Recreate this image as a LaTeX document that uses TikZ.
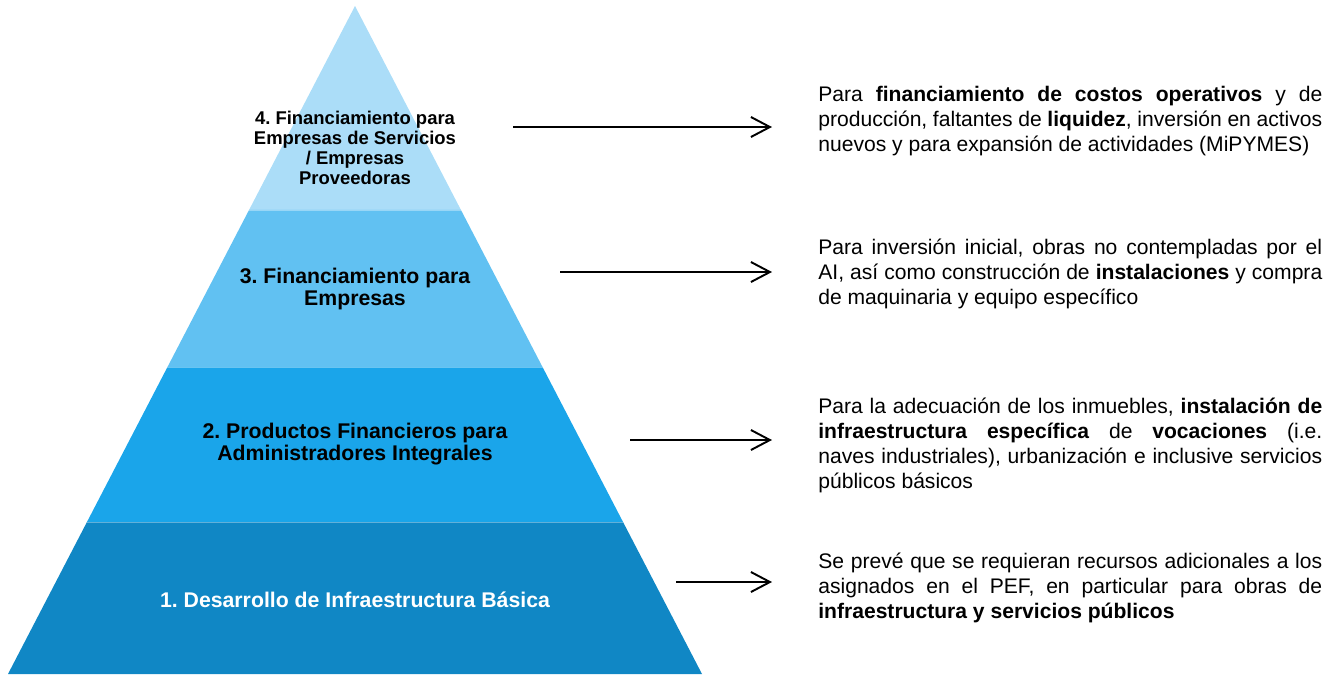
\documentclass[tikz,border=0pt]{standalone}
\usepackage{fontspec}
\setmainfont{Liberation Sans}
\usepackage{xcolor}
\usetikzlibrary{arrows.meta,positioning,calc}
\frenchspacing

\definecolor{layA}{HTML}{1087C5}
\definecolor{layB}{HTML}{1AA5EA}
\definecolor{layC}{HTML}{61C1F2}
\definecolor{layD}{HTML}{ABDDF8}

\begin{document}
\begin{tikzpicture}[x=0.02cm,y=-0.02cm,
  seam/.style={draw=white,draw opacity=0.35,line width=0.5pt},
  lbl/.style={align=center,inner sep=0pt,font=\bfseries\fontsize{12.1}{12}\selectfont},
  desc/.style={anchor=west,text width=10.08cm,align=justify,inner sep=0pt,
    font=\fontsize{12}{14.2}\selectfont},
  pointer/.style={line width=1.1pt,-{Straight Barb[length=0.38cm,width=0.4cm]}}]

\useasboundingbox (0,0) rectangle (1329,674);

% pyramid corners
\coordinate (T) at (355,6);
\coordinate (BL) at (8,674);
\coordinate (BR) at (702,674);

% cut points on both sides
\foreach \y/\n in {210/D,367/C,522/B} {
    \coordinate (L\n) at ($(T)!{(\y-6)/668}!(BL)$);
    \coordinate (R\n) at ($(T)!{(\y-6)/668}!(BR)$);
}

\fill[layD] (T) -- (LD) -- (RD) -- cycle;
\fill[layC] (LD) -- (LC) -- (RC) -- (RD) -- cycle;
\fill[layB] (LC) -- (LB) -- (RB) -- (RC) -- cycle;
\fill[layA] (LB) -- (BL) -- (BR) -- (RB) -- cycle;
\draw[seam] (LD) -- (RD);
\draw[seam] (LC) -- (RC);
\draw[seam] (LB) -- (RB);

% level labels
\node[lbl,font=\bfseries\fontsize{10.5}{11.4}\selectfont] (lvl4) at (355,148)
    {4. Financiamiento para\\Empresas de Servicios\\/ Empresas\\Proveedoras};
\node[lbl] (lvl3) at (355,289) {3. Financiamiento para\\Empresas};
\node[lbl] (lvl2) at (355,444) {2. Productos Financieros para\\Administradores Integrales};
\node[lbl,text=white] (lvl1) at (355,600) {1. Desarrollo de Infraestructura Básica};

% descriptions
\node[desc] (txt4) at (818,121) {Para \textbf{financiamiento de costos operativos} y de\linebreak
    producción, faltantes de \textbf{liquidez}, inversión en activos\linebreak
    nuevos y para expansión de actividades (MiPYMES)};
\node[desc] (txt3) at (818,274) {Para inversión inicial, obras no contempladas por el\linebreak
    AI, así como construcción de \textbf{instalaciones} y compra\linebreak
    de maquinaria y equipo específico};
\node[desc] (txt2) at (818,445) {Para la adecuación de los inmuebles, \textbf{instalación de}\linebreak
    \textbf{infraestructura específica} de \textbf{vocaciones} (i.e.\linebreak
    naves industriales), urbanización e inclusive servicios\linebreak
    públicos básicos};
\node[desc] (txt1) at (818,588) {Se prevé que se requieran recursos adicionales a los\linebreak
    asignados en el PEF, en particular para obras de\linebreak
    \textbf{infraestructura y servicios públicos}};

% arrows
\foreach \n/\xs/\y in {4/513/127,3/560/272,2/630/440,1/676/582} {
    \coordinate (s\n) at (\xs,\y);
    \coordinate (e\n) at (772,\y);
    \draw[pointer] (s\n) -- (e\n);
}
\end{tikzpicture}
\end{document}
